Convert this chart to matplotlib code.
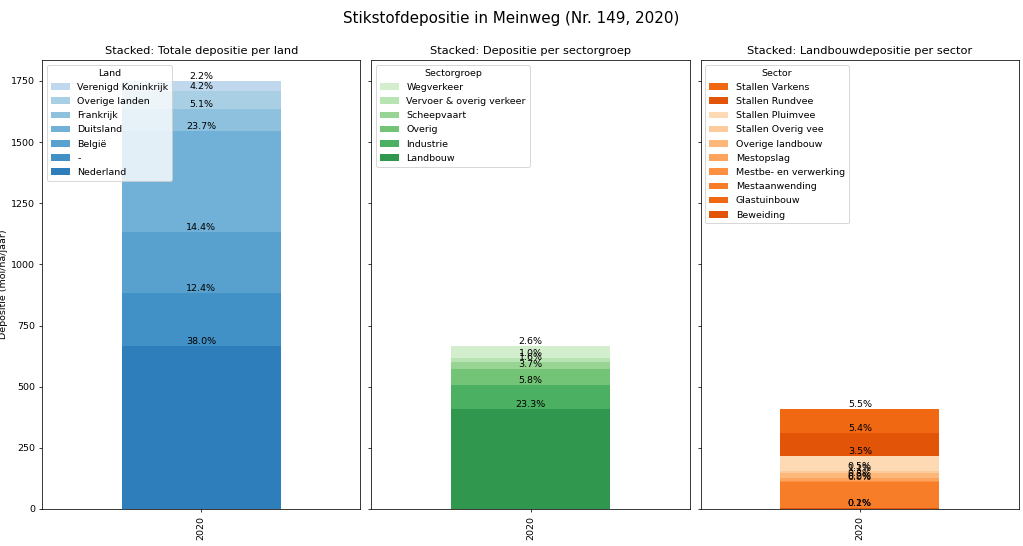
import numpy as np
import matplotlib
matplotlib.use("Agg")
import matplotlib.pyplot as plt

# Data (mol/ha/jaar)
jaar = ["2020"]

landen = ["Nederland", "-", "België", "Duitsland", "Frankrijk", "Overige landen", "Verenigd Koninkrijk"]
land_waarden = [664.3, 216.8, 251.7, 414.3, 89.1, 73.4, 38.5]

sectorgroepen = ["Landbouw", "Industrie", "Overig", "Scheepvaart", "Vervoer & overig verkeer", "Wegverkeer"]
sectorgroep_waarden = [407.3, 101.4, 64.7, 28.0, 17.5, 45.4]

sectoren = ["Beweiding", "Glastuinbouw", "Mestaanwending", "Mestbe- en verwerking", "Mestopslag",
            "Overige landbouw", "Stallen Overig vee", "Stallen Pluimvee", "Stallen Rundvee", "Stallen Varkens"]
sector_waarden = [3.5, 1.7, 104.9, 3.5, 14.0, 19.2, 8.7, 61.2, 94.4, 96.2]

totaal = sum(land_waarden)


def stacked(ax, names, values, colors, title, legend_title):
    bottom = 0.0
    handles = []
    for i, (name, val) in enumerate(zip(names, values)):
        c = colors[i % len(colors)]
        h = ax.bar(0, val, width=0.5, bottom=bottom, color=c, linewidth=0, label=name)
        handles.append(h)
        bottom += val
        # percentage of the total deposition, placed on top of each segment
        ax.text(0, bottom, f"{val / totaal * 100:.1f}%", ha="center", va="bottom", fontsize=10)
    ax.set_xlim(-0.5, 0.5)
    ax.set_xticks([0])
    ax.set_xticklabels(jaar, rotation=90)
    ax.set_xlabel("jaar", labelpad=8)
    ax.set_title(title, fontsize=12)
    ax.legend(handles[::-1], names[::-1], title=legend_title, loc="upper left", labelspacing=0.55)


fig, axes = plt.subplots(1, 3, figsize=(15, 546 / 68.2), sharey=True)
fig.subplots_adjust(left=0.0411, right=0.9961, top=0.8901, bottom=0.0678, wspace=0.0345)

stacked(axes[0], landen, land_waarden, plt.cm.Blues(np.linspace(0.7, 0.2, 8)[:7]),
        "Stacked: Totale depositie per land", "Land")
stacked(axes[1], sectorgroepen, sectorgroep_waarden, plt.cm.Greens(np.linspace(0.7, 0.2, 6)),
        "Stacked: Depositie per sectorgroep", "Sectorgroep")
stacked(axes[2], sectoren, sector_waarden, plt.cm.Oranges(np.linspace(0.7, 0.2, 8)),
        "Stacked: Landbouwdepositie per sector", "Sector")

axes[0].set_ylabel("Depositie (mol/ha/jaar)")
axes[0].set_ylim(0, totaal * 1.05)

fig.suptitle("Stikstofdepositie in Meinweg (Nr. 149, 2020)", fontsize=16, y=0.98)

plt.savefig("out.png", dpi=68.2)
